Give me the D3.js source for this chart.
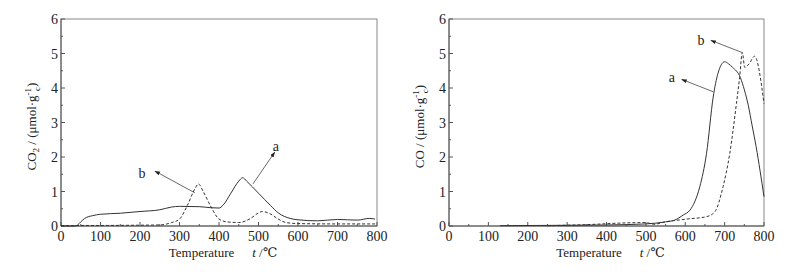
<!DOCTYPE html>
<html>
<head>
<meta charset="utf-8">
<script src="https://cdn.jsdelivr.net/npm/d3@7"></script>
<style>
  body { margin: 0; background: #fff; }
  svg { display: block; }
  text { font-family: "Liberation Serif", "DejaVu Serif", serif; fill: #222; }
</style>
</head>
<body>
<svg id="chart" width="802" height="272"></svg>
<script>
// values: [temperature, amount]
const xTicks = [0, 100, 200, 300, 400, 500, 600, 700, 800];
const yTicks = [0, 1, 2, 3, 4, 5, 6];

const co2A = [[0,0],[35,0],[42,0.03],[50,0.12],[60,0.22],[80,0.3],[100,0.34],[150,0.37],[200,0.42],
  [250,0.47],[280,0.55],[300,0.57],[350,0.56],[380,0.53],[400,0.52],[410,0.6],[430,0.95],[450,1.3],
  [460,1.4],[470,1.3],[500,0.95],[530,0.6],[550,0.38],[580,0.22],[600,0.18],[650,0.15],[700,0.19],
  [750,0.17],[780,0.22],[795,0.2]];
const co2B = [[0,0.01],[250,0.03],[280,0.1],[300,0.2],[320,0.6],[340,1.1],[348,1.22],[360,1.0],
  [380,0.55],[400,0.2],[420,0.12],[450,0.1],[480,0.22],[500,0.38],[510,0.42],[530,0.35],[550,0.2],
  [570,0.1],[600,0.07],[700,0.06],[800,0.06]];
const coA = [[130,0.01],[300,0.02],[400,0.03],[500,0.06],[550,0.12],[573,0.17],[595,0.32],[612,0.46],
  [624,0.7],[637,1.14],[654,2.1],[671,3.74],[683,4.42],[700,4.76],[710,4.7],[720,4.6],[740,4.3],
  [750,3.95],[760,3.5],[770,2.9],[780,2.3],[790,1.6],[800,0.85]];
const coB = [[250,0.01],[350,0.04],[450,0.09],[500,0.1],[520,0.05],[550,0.12],[603,0.2],[654,0.27],
  [675,0.41],[696,1.14],[713,2.1],[730,3.55],[738,4.3],[745,5.03],[751,4.6],[762,4.7],[776,4.92],
  [800,3.55]];

const panels = [
  { left: 61, right: 377, series: [co2A, co2B], yLabel: "CO2",
    notes: [{ text: "b", at: [205, 1.5], from: [339, 0.96], to: [238, 1.59] },
            { text: "a", at: [544, 2.3], from: [486, 1.22], to: [541, 2.14] }] },
  { left: 449, right: 764, series: [coA, coB], yLabel: "CO",
    notes: [{ text: "b", at: [640, 5.35], from: [744, 5.03], to: [665, 5.38] },
            { text: "a", at: [566, 4.28], from: [671, 3.89], to: [591, 4.25] }] }
];
const plotTop = 19, plotBottom = 226;

const svg = d3.select("#chart");

svg.append("defs").append("marker")
  .attr("id", "head").attr("viewBox", "0 0 10 10")
  .attr("refX", 9).attr("refY", 5)
  .attr("markerWidth", 7).attr("markerHeight", 7)
  .attr("orient", "auto")
  .append("path").attr("d", "M0,1.5L10,5L0,8.5Z").attr("fill", "#222");

panels.forEach(p => {
  const x = d3.scaleLinear().domain([0, 800]).range([p.left, p.right]);
  const y = d3.scaleLinear().domain([0, 6]).range([plotBottom, plotTop]);
  const g = svg.append("g");

  // frame
  g.append("rect")
    .attr("x", p.left).attr("y", plotTop)
    .attr("width", p.right - p.left).attr("height", plotBottom - plotTop)
    .attr("fill", "none").attr("stroke", "#888").attr("stroke-width", 1);
  g.append("path")
    .attr("d", `M${p.left},${plotTop}V${plotBottom}H${p.right}`)
    .attr("fill", "none").attr("stroke", "#555");

  // inward ticks
  const xMinor = d3.range(50, 800, 100);
  const yMinor = d3.range(0.5, 6, 1);
  g.selectAll(".xt").data(xTicks).join("line")
    .attr("x1", d => x(d)).attr("x2", d => x(d))
    .attr("y1", plotBottom).attr("y2", plotBottom - 4)
    .attr("stroke", "#555");
  g.selectAll(".xm").data(xMinor).join("line")
    .attr("x1", d => x(d)).attr("x2", d => x(d))
    .attr("y1", plotBottom).attr("y2", plotBottom - 2)
    .attr("stroke", "#555");
  g.selectAll(".yt").data(yTicks).join("line")
    .attr("x1", p.left).attr("x2", p.left + 4)
    .attr("y1", d => y(d)).attr("y2", d => y(d))
    .attr("stroke", "#555");
  g.selectAll(".ym").data(yMinor).join("line")
    .attr("x1", p.left).attr("x2", p.left + 2)
    .attr("y1", d => y(d)).attr("y2", d => y(d))
    .attr("stroke", "#555");

  g.selectAll(".xl").data(xTicks).join("text")
    .attr("x", d => x(d)).attr("y", plotBottom + 15)
    .attr("text-anchor", "middle").attr("font-size", 14)
    .text(d => d);
  g.selectAll(".yl").data(yTicks).join("text")
    .attr("x", p.left - 3).attr("y", d => y(d) + 5)
    .attr("text-anchor", "end").attr("font-size", 14)
    .text(d => d);

  // axis titles
  const xt = g.append("text")
    .attr("x", (p.left + p.right) / 2 + 4).attr("y", 257)
    .attr("text-anchor", "middle").attr("font-size", 13);
  xt.append("tspan").text("Temperature");
  xt.append("tspan").attr("dx", 18).attr("font-style", "italic").text("t");
  xt.append("tspan").text(" /℃");

  const yt = g.append("text")
    .attr("transform", `translate(${p.left - 25},${(plotTop + plotBottom) / 2 + 4}) rotate(-90)`)
    .attr("text-anchor", "middle").attr("font-size", 13);
  if (p.yLabel === "CO2") {
    yt.append("tspan").text("CO");
    yt.append("tspan").attr("font-size", 9).attr("dy", 3).text("2");
    yt.append("tspan").attr("dy", -3).text(" / (μmol·g");
  } else {
    yt.append("tspan").text("CO / (μmol·g");
  }
  yt.append("tspan").attr("font-size", 9).attr("dy", -5).text("-1");
  yt.append("tspan").attr("font-size", 9).attr("dy", 9).attr("dx", -3).text("c");
  yt.append("tspan").attr("dy", -4).text(")");

  // curves
  const line = d3.line().x(d => x(d[0])).y(d => y(d[1])).curve(d3.curveMonotoneX);
  p.series.forEach((s, i) => {
    g.append("path").datum(s)
      .attr("d", line)
      .attr("fill", "none")
      .attr("stroke", "#333")
      .attr("stroke-width", 1)
      .attr("stroke-dasharray", i === 1 ? "3,2" : null);
  });

  // annotations
  p.notes.forEach(n => {
    g.append("line")
      .attr("x1", x(n.from[0])).attr("y1", y(n.from[1]))
      .attr("x2", x(n.to[0])).attr("y2", y(n.to[1]))
      .attr("stroke", "#444").attr("stroke-width", 0.8)
      .attr("marker-end", "url(#head)");
    g.append("text")
      .attr("x", x(n.at[0])).attr("y", y(n.at[1]) + 4)
      .attr("text-anchor", "middle").attr("font-size", 14)
      .text(n.text);
  });
});
</script>
</body>
</html>
